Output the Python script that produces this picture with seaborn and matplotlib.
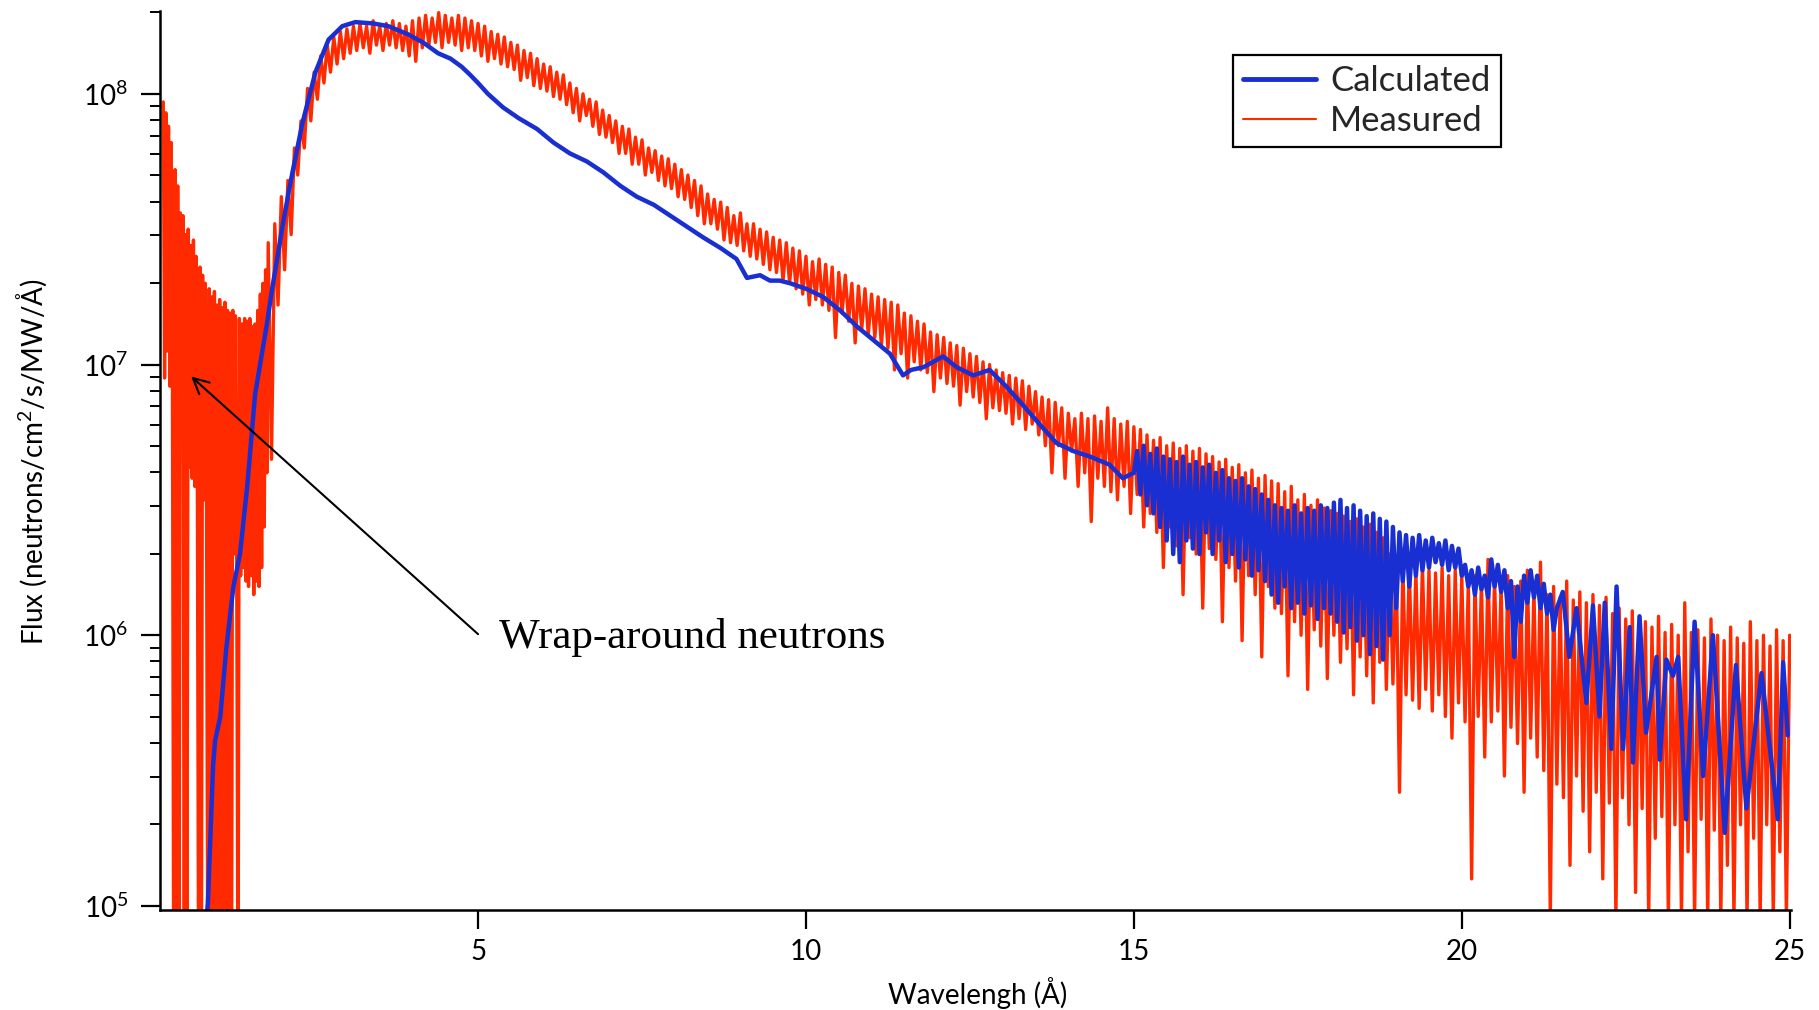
import numpy as np
import pandas as pd
import matplotlib
matplotlib.use("Agg")
import matplotlib.pyplot as plt
import seaborn as sns
from matplotlib.lines import Line2D
from matplotlib.ticker import FixedLocator, LogLocator, NullFormatter, NullLocator

# ---------------- data ----------------
# Measured spectrum, short-wavelength part: log10(flux) on a 0.02 A grid from 0.20 A to 1.80 A
measured_a_start = 0.20
measured_a_step = 0.02
measured_a_log10 = [
    7.97, 6.95, 7.93, 7.05, 7.88, 6.92, 7.82, 6.90, 4.50, 7.72, 4.50, 7.66, 4.50, 7.56, 6.80, 7.55, 4.50, 7.48, 4.50, 7.50,
    6.62, 7.44, 6.58, 7.46, 6.55, 7.40, 6.52, 4.50, 7.36, 4.50, 7.33, 6.50, 7.30, 6.45, 4.50, 7.28, 4.50, 7.25, 4.50, 7.27,
    4.50, 7.22, 4.50, 7.24, 4.50, 7.21, 4.50, 7.23, 4.50, 7.20, 4.50, 7.19, 4.50, 7.20, 6.30, 7.18, 6.25, 4.50, 7.17, 6.22,
    7.15, 6.25, 7.17, 6.20, 7.16, 6.18, 7.17, 6.22, 7.14, 6.15, 7.15, 6.20, 7.20, 6.18, 7.26, 6.25, 7.30, 6.40, 7.35, 6.60,
    7.45,
]
# Measured spectrum, main part: log10(flux) on a 0.05 A grid from 1.85 A to 25.00 A
measured_b_start = 1.85
measured_b_step = 0.05
measured_b_log10 = [
    6.65, 7.52, 7.22, 7.62, 7.35, 7.68, 7.48,
    7.80, 7.70, 7.90, 7.80, 8.02, 7.90, 8.08, 7.98, 8.14, 8.04, 8.18, 8.08, 8.21, 8.11, 8.23, 8.13, 8.24, 8.15, 8.25, 8.16,
    8.26, 8.17, 8.25, 8.15, 8.27, 8.18, 8.25, 8.16, 8.26, 8.18, 8.27, 8.17, 8.26, 8.16, 8.25, 8.14, 8.27, 8.12, 8.28, 8.17,
    8.29, 8.18, 8.28, 8.19, 8.30, 8.17, 8.29, 8.19, 8.28, 8.18, 8.29, 8.16, 8.28, 8.17, 8.27, 8.16, 8.26, 8.14, 8.25, 8.12,
    8.23, 8.13, 8.22, 8.11, 8.21, 8.10, 8.19, 8.09, 8.18, 8.05, 8.16, 8.06, 8.15, 8.03, 8.13, 8.02, 8.11, 8.01, 8.10, 7.99,
    8.08, 7.98, 8.07, 7.96, 8.04, 7.93, 8.02, 7.90, 8.00, 7.92, 7.98, 7.88, 7.97, 7.85, 7.94, 7.84, 7.92, 7.82, 7.90, 7.78,
    7.88, 7.78, 7.87, 7.74, 7.84, 7.74, 7.83, 7.70, 7.80, 7.71, 7.79, 7.68, 7.77, 7.66, 7.76, 7.65, 7.74, 7.62, 7.72, 7.61,
    7.70, 7.58, 7.68, 7.55, 7.66, 7.52, 7.63, 7.52, 7.61, 7.50, 7.60, 7.46, 7.58, 7.45, 7.55, 7.44, 7.56, 7.42, 7.52, 7.40,
    7.52, 7.39, 7.50, 7.37, 7.49, 7.35, 7.47, 7.34, 7.46, 7.31, 7.45, 7.30, 7.43, 7.28, 7.42, 7.26, 7.40, 7.22, 7.38, 7.24,
    7.39, 7.22, 7.37, 7.20, 7.36, 7.10, 7.34, 7.19, 7.33, 7.16, 7.30, 7.08, 7.29, 7.13, 7.28, 7.11, 7.26, 7.10, 7.25, 7.07,
    7.24, 7.06, 7.23, 6.98, 7.22, 7.04, 7.19, 6.95, 7.18, 7.01, 7.16, 6.98, 7.15, 6.97, 7.12, 6.90, 7.11, 6.95, 7.10, 6.93,
    7.08, 6.92, 7.07, 6.85, 7.06, 6.90, 7.04, 6.88, 7.03, 6.86, 7.01, 6.80, 7.00, 6.84, 6.98, 6.83, 6.97, 6.82, 6.96, 6.78,
    6.95, 6.80, 6.94, 6.76, 6.92, 6.78, 6.90, 6.74, 6.88, 6.70, 6.87, 6.60, 6.86, 6.70, 6.84, 6.58, 6.82, 6.68, 6.80, 6.55,
    6.82, 6.60, 6.80, 6.42, 6.81, 6.58, 6.79, 6.55, 6.84, 6.53, 6.80, 6.50, 6.78, 6.55, 6.79, 6.45, 6.77, 6.52, 6.76, 6.40,
    6.74, 6.45, 6.72, 6.38, 6.73, 6.25, 6.70, 6.40, 6.71, 6.33, 6.69, 6.15, 6.70, 6.36, 6.68, 6.30, 6.69, 6.10, 6.67, 6.32,
    6.66, 6.28, 6.64, 6.05, 6.65, 6.25, 6.62, 6.20, 6.63, 5.98, 6.60, 6.22, 6.61, 6.15, 6.58, 5.92, 6.59, 6.18, 6.57, 6.10,
    6.56, 6.08, 6.53, 5.85, 6.55, 6.05, 6.50, 6.00, 6.52, 5.80, 6.48, 6.02, 6.50, 5.96, 6.47, 5.84, 6.46, 6.00, 6.45, 5.90,
    6.44, 5.95, 6.42, 5.78, 6.43, 5.92, 6.40, 5.85, 6.41, 5.75, 6.38, 5.90, 6.36, 5.80, 6.30, 5.82, 6.28, 5.42, 6.26, 5.78,
    6.25, 5.76, 6.24, 5.73, 6.26, 5.80, 6.24, 5.72, 6.23, 5.78, 6.25, 5.70, 6.22, 5.62, 6.24, 5.75, 6.22, 5.68, 6.20, 5.10,
    6.22, 5.70, 6.20, 5.55, 6.28, 5.68, 6.21, 5.72, 6.19, 5.48, 6.22, 5.66, 6.18, 5.60, 6.20, 5.42, 6.24, 5.62, 6.17, 5.55,
    6.27, 5.50, 6.15, 4.95, 6.18, 5.45, 6.14, 5.40, 6.20, 5.15, 6.13, 5.48, 6.16, 5.35, 6.12, 5.20, 6.15, 5.42, 6.11, 5.10,
    6.14, 5.38, 6.08, 4.95, 6.10, 5.40, 6.06, 5.30, 6.09, 5.05, 6.04, 5.36, 6.05, 4.95, 6.03, 5.25, 6.07, 5.33, 6.01, 4.95,
    6.04, 5.30, 6.00, 4.95, 6.12, 5.20, 6.01, 4.95, 6.02, 5.32, 5.99, 4.95, 6.06, 5.28, 6.00, 4.95, 5.98, 5.15, 6.03, 4.95,
    5.99, 5.30, 5.97, 4.95, 6.05, 5.25, 5.98, 4.95, 6.00, 5.30, 5.96, 4.95, 6.02, 5.20, 5.98, 4.95, 6.00,
]

# Calculated spectrum, smooth part: (wavelength, log10 flux) pairs
calc_smooth_wl = [0.84, 0.88, 0.96, 0.99, 1.07, 1.16, 1.27, 1.37, 1.48, 1.60, 1.71, 1.78, 1.86, 1.95,
                  2.01, 2.13, 2.17, 2.32, 2.52, 2.72, 2.93, 3.13, 3.40, 3.63, 3.93, 4.16, 4.39, 4.58,
                  4.75, 4.88, 5.00, 5.15, 5.38, 5.62, 5.90, 6.15, 6.40, 6.66, 6.91, 7.17, 7.42, 7.68,
                  7.93, 8.18, 8.43, 8.70, 8.94, 9.10, 9.30, 9.45, 9.60, 9.76, 10.00, 10.26, 10.52, 10.78,
                  11.03, 11.28, 11.48, 11.60, 11.79, 12.09, 12.30, 12.55, 12.80, 13.05, 13.31, 13.56,
                  13.82, 14.08, 14.33, 14.63, 14.83, 15.00]
calc_smooth_log10 = [4.90, 5.01, 5.52, 5.61, 5.70, 5.95, 6.18, 6.30, 6.55, 6.89, 7.05, 7.15, 7.28, 7.41,
                     7.50, 7.66, 7.71, 7.89, 8.08, 8.20, 8.25, 8.265, 8.26, 8.25, 8.22, 8.19, 8.15, 8.13,
                     8.10, 8.07, 8.04, 8.00, 7.95, 7.91, 7.87, 7.82, 7.78, 7.75, 7.71, 7.66, 7.62, 7.59,
                     7.55, 7.51, 7.47, 7.43, 7.39, 7.32, 7.33, 7.31, 7.31, 7.30, 7.28, 7.25, 7.20, 7.14,
                     7.09, 7.04, 6.96, 6.98, 6.99, 7.03, 6.99, 6.96, 6.98, 6.92, 6.85, 6.78,
                     6.71, 6.68, 6.66, 6.63, 6.58, 6.60]

# Calculated spectrum, noisy part: log10 flux on a 0.05 A grid from 15.05 A
calc_band_start = 15.05
calc_band_step = 0.05
calc_band_log10 = [
    6.68, 6.52, 6.70, 6.48, 6.67, 6.45, 6.69, 6.40, 6.66, 6.35, 6.65, 6.30, 6.64, 6.27, 6.66, 6.35, 6.63, 6.32, 6.64, 6.30,
    6.62, 6.38, 6.63, 6.30, 6.60, 6.35, 6.61, 6.27, 6.58, 6.30, 6.57, 6.25, 6.58, 6.28, 6.55, 6.22, 6.54, 6.24, 6.52, 6.20,
    6.50, 6.15, 6.48, 6.12, 6.47, 6.18, 6.46, 6.10, 6.48, 6.12, 6.45, 6.08, 6.47, 6.11, 6.46, 6.06, 6.48, 6.10, 6.47, 6.08,
    6.49, 6.05, 6.50, 6.01, 6.47, 6.03, 6.48, 5.98, 6.46, 6.00, 6.44, 5.93, 6.45, 5.96, 6.43, 5.91, 6.42, 6.00, 6.40, 6.10,
    6.38, 6.20, 6.37, 6.18, 6.36, 6.22, 6.37, 6.24, 6.35, 6.25, 6.36, 6.27, 6.34, 6.26, 6.35, 6.24, 6.33, 6.25, 6.32, 6.22,
    6.26, 6.18, 6.24, 6.15, 6.25, 6.17, 6.22, 6.14, 6.28, 6.18, 6.26, 6.16, 6.24, 6.10, 6.20, 5.92, 6.18, 6.05, 6.22, 6.12,
    6.24, 6.14, 6.22, 6.10, 6.19, 6.08, 6.15, 6.02, 6.10,
]

# Calculated spectrum, oscillating tail: (wavelength, log10 flux) pairs
calc_osc_wl = [21.54, 21.64, 21.75, 21.90, 22.00, 22.10, 22.18, 22.28, 22.36, 22.46, 22.56, 22.61,
               22.71, 22.81, 22.97, 23.02, 23.12, 23.22, 23.30, 23.42, 23.55, 23.68, 23.83, 24.01,
               24.18, 24.34, 24.57, 24.82, 24.90, 24.97]
calc_osc_log10 = [6.16, 5.92, 6.10, 5.75, 6.11, 5.70, 6.12, 5.58, 6.18, 5.58, 6.03, 5.53,
                  6.07, 5.64, 5.92, 5.54, 5.91, 5.85, 5.92, 5.32, 6.05, 5.48, 6.00, 5.27,
                  5.89, 5.36, 5.86, 5.32, 5.90, 5.63]

series_names = ["Calculated", "Measured"]
x_ticks = [5, 10, 15, 20, 25]
y_decades = [5, 6, 7, 8]
x_label = "Wavelengh (Å)"
y_label = "Flux (neutrons/cm$^2$/s/MW/Å)"
annotation_text = "Wrap-around neutrons"

# ---------------- tables ----------------
meas_wl_a = np.round(measured_a_start + measured_a_step * np.arange(len(measured_a_log10)), 2)
meas_wl_b = np.round(measured_b_start + measured_b_step * np.arange(len(measured_b_log10)), 2)
df_meas = pd.DataFrame({
    "wl": np.concatenate([meas_wl_a, meas_wl_b]),
    "flux": 10.0 ** np.concatenate([measured_a_log10, measured_b_log10]),
})

band_wl = np.round(calc_band_start + calc_band_step * np.arange(len(calc_band_log10)), 2)
df_calc = pd.DataFrame({
    "wl": np.concatenate([calc_smooth_wl, band_wl, calc_osc_wl]),
    "flux": 10.0 ** np.concatenate([calc_smooth_log10, calc_band_log10, calc_osc_log10]),
})

# ---------------- style ----------------
RED = "#ff2a00"
BLUE = "#1a2fd2"
sns.set_theme(style="ticks")
plt.rcParams["font.family"] = ["Lato", "DejaVu Sans"]
plt.rcParams["mathtext.fontset"] = "custom"
plt.rcParams["mathtext.rm"] = "Lato"
plt.rcParams["mathtext.it"] = "Lato:italic"
plt.rcParams["mathtext.bf"] = "Lato:bold"

W, H = 1819, 1010
fig = plt.figure(figsize=(W / 100, H / 100), dpi=100)
L, R, T, B = 160, 1791, 11, 910
ax = fig.add_axes([L / W, 1 - B / H, (R - L) / W, (B - T) / H])

sns.lineplot(data=df_meas, x="wl", y="flux", ax=ax, color=RED, lw=2.4,
             sort=False, estimator=None, legend=False)
sns.lineplot(data=df_calc, x="wl", y="flux", ax=ax, color=BLUE, lw=3.2,
             sort=False, estimator=None, legend=False)

ax.set_yscale("log")
ax.set_xlim(0.15, 25.02)
ax.set_ylim(10 ** 4.985, 10 ** 8.306)

ax.xaxis.set_major_locator(FixedLocator(x_ticks))
ax.xaxis.set_minor_locator(NullLocator())
ax.set_xticklabels([str(t) for t in x_ticks])
ax.yaxis.set_major_locator(FixedLocator([10.0 ** d for d in y_decades]))
ax.set_yticklabels([r"$\mathdefault{10^{%d}}$" % d for d in y_decades])
ax.yaxis.set_minor_locator(LogLocator(base=10, subs=np.arange(2, 10), numticks=20))
ax.yaxis.set_minor_formatter(NullFormatter())

for s in ["top", "right"]:
    ax.spines[s].set_visible(False)
for s in ["left", "bottom"]:
    ax.spines[s].set_color("black")
    ax.spines[s].set_linewidth(1.8)

ax.tick_params(axis="y", which="major", direction="out", length=14, width=1.6,
               labelsize=20, pad=9, colors="black")
ax.tick_params(axis="y", which="minor", direction="out", length=7, width=1.4, colors="black")
ax.tick_params(axis="x", which="major", direction="out", length=14, width=1.6,
               labelsize=20, pad=7, colors="black")
ax.grid(False)

ax.set_xlabel(x_label, fontsize=20, color="black")
ax.xaxis.label.set_va("center")
ax.xaxis.set_label_coords((978 - L) / (R - L), -(993 - B) / (B - T))
ax.set_ylabel(y_label, fontsize=20, color="black")
ax.yaxis.label.set_va("center")
ax.yaxis.set_label_coords(-(L - 32) / (R - L), (B - 462) / (B - T))

handles = [Line2D([], [], color=BLUE, lw=3.5), Line2D([], [], color=RED, lw=1.5)]
leg = ax.legend(handles, series_names, loc="upper left",
                bbox_to_anchor=(1233 / W, 1 - 55 / H), bbox_transform=fig.transFigure,
                borderaxespad=0, fontsize=25, frameon=True, fancybox=False, shadow=False,
                framealpha=1, edgecolor="black", handlelength=2.1, handletextpad=0.4,
                labelspacing=0.22, borderpad=0.3)
leg.get_frame().set_linewidth(1.6)

ax.annotate("", xy=(0.625, 10 ** 6.956), xytext=(5.0, 10 ** 6.004),
            arrowprops=dict(arrowstyle="->", color="black", lw=1.5, mutation_scale=28,
                            shrinkA=0, shrinkB=0))
ax.text(5.32, 10 ** 5.993, annotation_text, ha="left", va="center",
        fontsize=31, family=["Liberation Serif", "DejaVu Serif"], color="black")

fig.savefig("out.png", dpi=100)
